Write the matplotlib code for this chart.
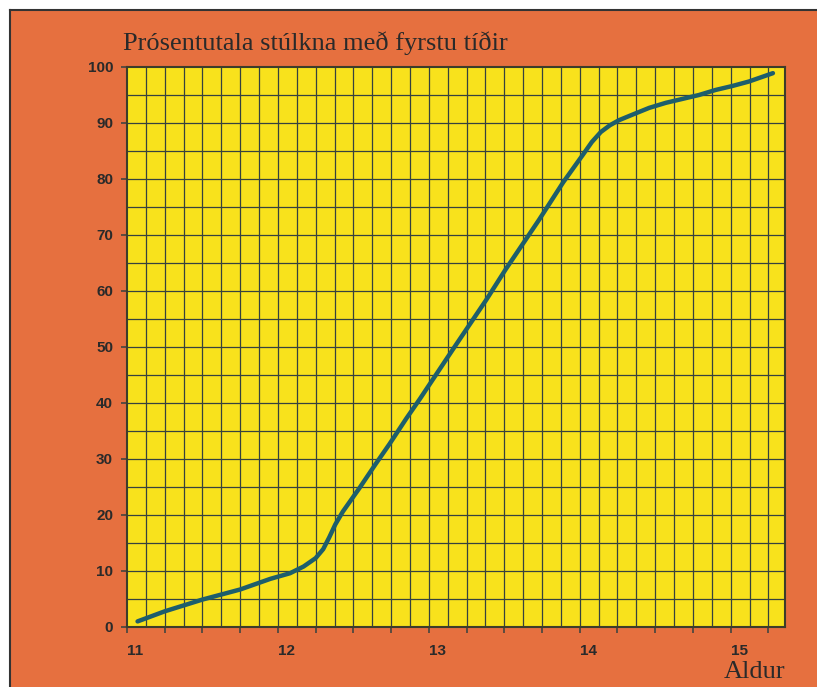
import numpy as np
import matplotlib.pyplot as plt
from matplotlib.patches import Rectangle
from matplotlib.lines import Line2D
from matplotlib.ticker import FixedLocator, FuncFormatter

# age (years) and percentage of girls who have had their first period
age = [11.07, 11.25, 11.5, 11.75, 11.95, 12.08, 12.17, 12.25, 12.30, 12.34,
       12.38, 12.43, 12.54, 12.65, 12.74, 12.85, 12.94, 13.16, 13.38, 13.51,
       13.73, 13.89, 14.02, 14.08, 14.14, 14.20, 14.26, 14.35, 14.46, 14.57,
       14.68, 14.79, 14.90, 15.01, 15.12, 15.28]
percent = [1.0, 2.8, 4.9, 6.7, 8.6, 9.6, 10.8, 12.3, 13.9, 16.0,
           18.3, 20.6, 24.8, 29.2, 32.7, 37.2, 40.7, 49.6, 58.4, 63.9,
           72.7, 79.4, 84.3, 86.6, 88.4, 89.6, 90.5, 91.5, 92.7, 93.6,
           94.3, 95.0, 95.9, 96.6, 97.4, 98.9]

x_labels = [11, 12, 13, 14, 15]
y_labels = list(range(0, 101, 10))
title = 'Prósentutala stúlkna með fyrstu tíðir'
xlabel = 'Aldur'

orange = '#e6703f'
yellow = '#f8e21c'
gridc = '#35423f'
linec = '#1d5e6c'
textc = '#2a2a2a'

W, H = 817, 687
fig = plt.figure(figsize=(W/100, H/100), dpi=100)
fig.patch.set_facecolor(orange)

# white margin on top and left, dark border line
fig.patches.append(Rectangle((0, 1 - 10/H), 1, 10/H, transform=fig.transFigure,
                             facecolor='white', edgecolor='none', zorder=0))
fig.patches.append(Rectangle((0, 0), 10/W, 1, transform=fig.transFigure,
                             facecolor='white', edgecolor='none', zorder=0))
fig.lines.append(Line2D([10/W, 1], [1 - 10/H, 1 - 10/H], transform=fig.transFigure,
                        color='#333333', lw=1.5))
fig.lines.append(Line2D([10/W, 10/W], [0, 1 - 10/H], transform=fig.transFigure,
                        color='#333333', lw=1.5))

ax = fig.add_axes([127/W, 1 - 627/H, (785-127)/W, (627-67)/H])
ax.set_zorder(2)
ax.set_facecolor(yellow)
ax.set_xlim(11, 15.36)
ax.set_ylim(0, 100)

# grid
for gx in np.arange(11.125, 15.36, 0.125):
    ax.axvline(gx, color=gridc, lw=0.9, zorder=1)
for gy in range(5, 100, 5):
    ax.axhline(gy, color=gridc, lw=0.9, zorder=1)

ax.plot(age, percent, color=linec, lw=3.2, solid_capstyle='round',
        solid_joinstyle='round', zorder=3)

for s in ax.spines.values():
    s.set_color('#3d3d2a')
    s.set_linewidth(1.5)

ax.xaxis.set_major_locator(FixedLocator(np.arange(11, 15.3, 0.25)))
ax.xaxis.set_major_formatter(FuncFormatter(
    lambda v, p: str(int(round(v))) if abs(v - round(v)) < 1e-6 and int(round(v)) in x_labels else ''))
ax.set_yticks(y_labels)
ax.tick_params(axis='both', direction='out', length=4, width=1.1, color=gridc,
               labelcolor=textc)
ax.tick_params(axis='x', pad=8)
ax.tick_params(axis='y', pad=6)
for lab in ax.get_xticklabels():
    lab.set_horizontalalignment('left')
for lab in ax.get_xticklabels() + ax.get_yticklabels():
    lab.set_fontfamily('Liberation Sans')
    lab.set_fontweight('bold')
    lab.set_fontsize(11)

fig.text(123/W, 1 - 50/H, title, family='Liberation Serif', fontsize=19,
         color=textc, ha='left', va='baseline')
fig.text(785/W, 1 - 678/H, xlabel, family='Liberation Serif', fontsize=19,
         color=textc, ha='right', va='baseline')

fig.savefig('out.png', dpi=100, facecolor=fig.get_facecolor())
